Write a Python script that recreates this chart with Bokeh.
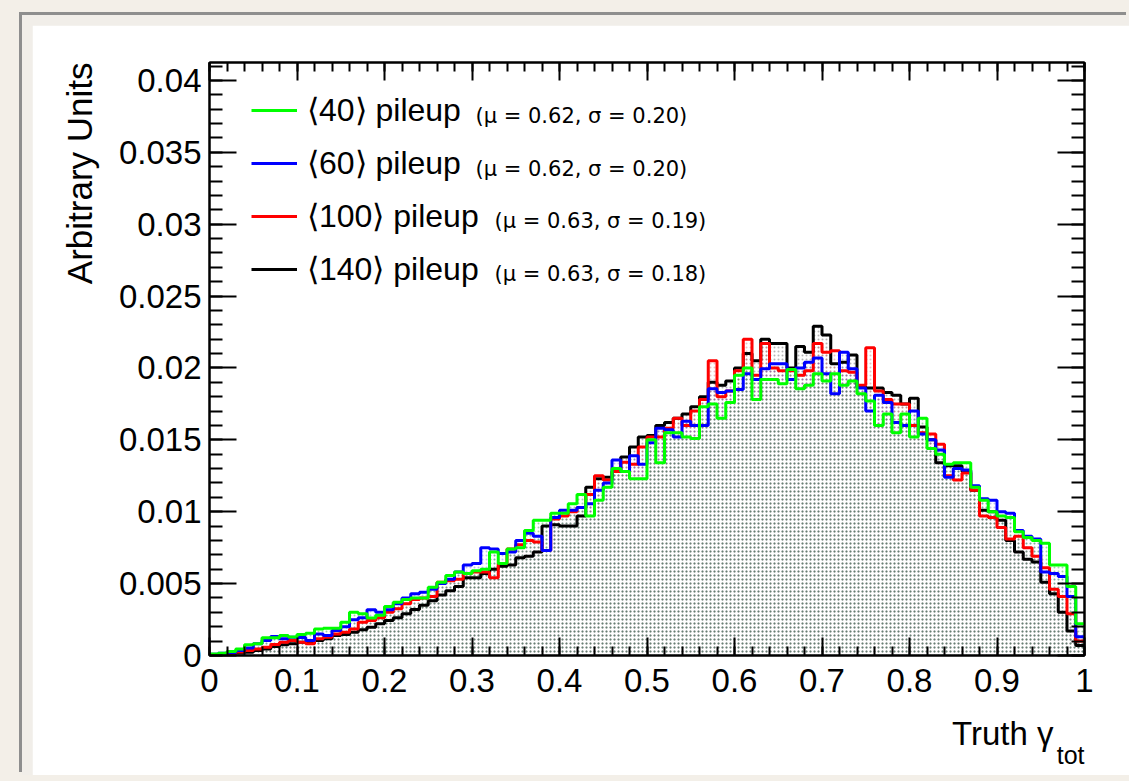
import numpy as np
from bokeh.plotting import figure
from bokeh.models import LinearAxis, FixedTicker, Label, Legend, LegendItem, Title
from bokeh.layouts import column
from bokeh.embed import file_html
from bokeh.resources import INLINE

# ---------------- data ----------------
x_min, x_max, n_bins = 0.0, 1.0, 100

pu40 = [0.0001, 0.00016, 0.00028, 0.00046, 0.00074, 0.00081, 0.00123, 0.00123, 0.00139, 0.00128,
        0.00146, 0.00155, 0.00185, 0.0019, 0.0019, 0.00232, 0.0030, 0.0029, 0.0026, 0.0028,
        0.0034, 0.0037, 0.0039, 0.0040, 0.0040, 0.00475, 0.0051, 0.00557, 0.0058, 0.0057,
        0.0059, 0.0060, 0.0072, 0.0064, 0.0074, 0.0075, 0.0087, 0.0094, 0.0094, 0.0099,
        0.0099, 0.01055, 0.0112, 0.0097, 0.0108, 0.0117, 0.0130, 0.0128, 0.0123, 0.0123,
        0.0150, 0.0134, 0.0155, 0.0155, 0.0152, 0.0151, 0.0173, 0.0175, 0.0165, 0.0176,
        0.0195, 0.0200, 0.0178, 0.0192, 0.0192, 0.0189, 0.0199, 0.01855, 0.0188, 0.0196,
        0.0191, 0.0196, 0.0188, 0.0191, 0.0182, 0.0177, 0.0160, 0.0168, 0.0155, 0.0168,
        0.0152, 0.0165, 0.0144, 0.0140, 0.0133, 0.0134, 0.0134, 0.0117, 0.0108, 0.0100,
        0.0097, 0.0096, 0.0086, 0.0082, 0.0080, 0.0078, 0.0063, 0.0063, 0.0048, 0.0022]

pu60 = [0.00008, 0.00015, 0.0002, 0.00035, 0.00053, 0.00081, 0.00104, 0.00132, 0.00116, 0.00127,
        0.00125, 0.00104, 0.0015, 0.00139, 0.00174, 0.0020, 0.00248, 0.00262, 0.00318, 0.0030,
        0.00318, 0.0036, 0.0040, 0.0043, 0.0044, 0.0046, 0.0050, 0.0053, 0.0058, 0.0063,
        0.0064, 0.0075, 0.0074, 0.0071, 0.0072, 0.0080, 0.0085, 0.0083, 0.0073, 0.0096,
        0.0101, 0.0101, 0.0103, 0.01055, 0.0115, 0.0120, 0.0136, 0.0128, 0.0139, 0.0133,
        0.0148, 0.0158, 0.0157, 0.0152, 0.0163, 0.0160, 0.0160, 0.01855, 0.0183, 0.0184,
        0.0185, 0.0196, 0.0192, 0.01995, 0.0203, 0.0203, 0.0192, 0.0200, 0.0204, 0.0207,
        0.0196, 0.0182, 0.0211, 0.01995, 0.0186, 0.0170, 0.0181, 0.0176, 0.0162, 0.0160,
        0.0170, 0.0154, 0.0150, 0.0143, 0.0124, 0.0130, 0.0129, 0.0118, 0.0109, 0.0108,
        0.0100, 0.0099, 0.0087, 0.0083, 0.0081, 0.0058, 0.0057, 0.0055, 0.0041, 0.0013]

pu100 = [0.00005, 0.0001, 0.00015, 0.00025, 0.00035, 0.00046, 0.00058, 0.00077, 0.00093, 0.00104,
         0.00093, 0.00081, 0.00116, 0.00127, 0.0015, 0.00162, 0.00185, 0.00232, 0.00243, 0.00262,
         0.0030, 0.00325, 0.0036, 0.0039, 0.0040, 0.0041, 0.0051, 0.0052, 0.0053, 0.0057,
         0.0058, 0.0058, 0.0054, 0.0064, 0.0074, 0.0077, 0.0080, 0.0079, 0.0073, 0.0095,
         0.0097, 0.0100, 0.0103, 0.0112, 0.0125, 0.0122, 0.0128, 0.01345, 0.0133, 0.0145,
         0.0152, 0.0152, 0.0158, 0.0165, 0.0160, 0.0170, 0.0178, 0.0205, 0.0180, 0.0184,
         0.0198, 0.0220, 0.0195, 0.0217, 0.0200, 0.0198, 0.0198, 0.0195, 0.0198, 0.0217,
         0.0211, 0.0212, 0.0198, 0.0197, 0.0188, 0.0214, 0.0184, 0.0178, 0.0175, 0.0175,
         0.0160, 0.0155, 0.0154, 0.0147, 0.0125, 0.0122, 0.0127, 0.0115, 0.0097, 0.0096,
         0.0089, 0.0081, 0.0083, 0.0075, 0.0069, 0.0061, 0.0046, 0.0041, 0.0029, 0.0010]

pu140 = [0.00005, 0.0001, 0.00012, 0.00018, 0.00023, 0.00035, 0.00046, 0.00063, 0.00074, 0.00081,
         0.00093, 0.00098, 0.00104, 0.00116, 0.00139, 0.00146, 0.00162, 0.00179, 0.00197, 0.0022,
         0.00243, 0.00262, 0.0029, 0.0032, 0.0035, 0.0038, 0.0042, 0.0045, 0.0048, 0.0054,
         0.0054, 0.0057, 0.0060, 0.0062, 0.0063, 0.0068, 0.0069, 0.0072, 0.0090, 0.0091,
         0.0090, 0.0090, 0.0097, 0.0117, 0.0123, 0.0124, 0.0128, 0.0138, 0.0145, 0.0152,
         0.0153, 0.0160, 0.0162, 0.0165, 0.0168, 0.0173, 0.0180, 0.0190, 0.0188, 0.0191,
         0.0200, 0.0210, 0.0205, 0.0220, 0.0217, 0.0217, 0.0200, 0.0215, 0.0211, 0.0229,
         0.0223, 0.0203, 0.0204, 0.0209, 0.0187, 0.0186, 0.0186, 0.0183, 0.0181, 0.0175,
         0.0179, 0.0159, 0.0150, 0.0134, 0.0132, 0.0132, 0.0128, 0.0115, 0.0101, 0.0100,
         0.0094, 0.0080, 0.0072, 0.0067, 0.0065, 0.0051, 0.0043, 0.0030, 0.0017, 0.0007]

series = [pu40, pu60, pu100, pu140]
legend_labels = ["\u27e840\u27e9 pileup", "\u27e860\u27e9 pileup",
                 "\u27e8100\u27e9 pileup", "\u27e8140\u27e9 pileup"]
legend_stats = ["(\u03bc = 0.62, \u03c3 = 0.20)", "(\u03bc = 0.62, \u03c3 = 0.20)",
                "(\u03bc = 0.63, \u03c3 = 0.19)", "(\u03bc = 0.63, \u03c3 = 0.18)"]
colors = ["#00ff00", "#0000ff", "#ff0000", "#000000"]
stipple_colors = ["#2f9a3c", "#3a3ac8", "#c83a3a", "#303030"]
stipple_alpha = [0.45, 0.33, 0.33, 0.36]

x_ticks = [0, 0.1, 0.2, 0.3, 0.4, 0.5, 0.6, 0.7, 0.8, 0.9, 1]
x_tick_labels = ["0", "0.1", "0.2", "0.3", "0.4", "0.5", "0.6", "0.7", "0.8", "0.9", "1"]
y_ticks = [0, 0.005, 0.01, 0.015, 0.02, 0.025, 0.03, 0.035, 0.04]
y_tick_labels = ["0", "0.005", "0.01", "0.015", "0.02", "0.025", "0.03", "0.035", "0.04"]
y_top = 0.04125
x_title = "Truth \u03b3"
x_title_sub = "tot"
y_title = "Arbitrary Units"

# ---------------- figure ----------------
FONT = "Liberation Sans"
p = figure(width=1097, height=750, x_range=(x_min, x_max), y_range=(0, y_top),
           output_backend="svg", toolbar_location=None,
           min_border_left=177, min_border_right=45, min_border_top=37, min_border_bottom=120)
p.margin = (10, 0, 0, 10)
p.background_fill_color = "white"
p.border_fill_color = "white"
p.xgrid.visible = False
p.ygrid.visible = False
p.outline_line_color = "black"
p.outline_line_width = 2

edges = np.linspace(x_min, x_max, n_bins + 1)
x_minor = list(np.round(np.arange(0, 1.0001, 0.02), 4))
y_minor = list(np.round(np.arange(0, y_top, 0.001), 5))

order = [3, 2, 1, 0]
for i in order:
    vals = np.array(series[i])
    p.quad(left=edges[:-1], right=edges[1:], bottom=0, top=vals,
           fill_alpha=0, line_color=None, hatch_pattern="dot",
           hatch_color=stipple_colors[i], hatch_scale=4, hatch_alpha=stipple_alpha[i])

line_r = {}
for i in order:
    vals = np.array(series[i])
    line_r[i] = p.step(x=edges, y=np.append(vals, vals[-1]), mode="after",
                       line_color=colors[i], line_width=3)

def style_axis(ax, tin, tmin):
    ax.axis_line_width = 2
    ax.axis_line_color = "black"
    ax.major_tick_in = tin
    ax.major_tick_out = 0
    ax.minor_tick_in = tmin
    ax.minor_tick_out = 0
    ax.major_tick_line_width = 2
    ax.minor_tick_line_width = 2
    ax.major_label_text_font = FONT
    ax.major_label_text_font_size = "33px"
    ax.major_label_text_color = "black"

p.xaxis.ticker = FixedTicker(ticks=x_ticks, minor_ticks=x_minor)
p.yaxis.ticker = FixedTicker(ticks=y_ticks, minor_ticks=y_minor)
style_axis(p.xaxis[0], 18, 9)
style_axis(p.yaxis[0], 27, 13)
p.xaxis.major_label_overrides = dict(zip(x_ticks, x_tick_labels))
p.yaxis.major_label_overrides = dict(zip(y_ticks, y_tick_labels))
p.xaxis.major_label_standoff = 13
p.yaxis.major_label_standoff = 8

ax_top = LinearAxis(ticker=FixedTicker(ticks=x_ticks, minor_ticks=x_minor))
style_axis(ax_top, 18, 9)
ax_top.major_label_text_font_size = "1px"
ax_top.major_label_text_color = None
ax_top.major_label_standoff = 0
p.add_layout(ax_top, "above")

ax_right = LinearAxis(ticker=FixedTicker(ticks=y_ticks, minor_ticks=y_minor))
style_axis(ax_right, 27, 13)
ax_right.major_label_text_font_size = "1px"
ax_right.major_label_text_color = None
ax_right.major_label_standoff = 0
p.add_layout(ax_right, "right")

# axis titles
p.add_layout(Title(text=y_title, align="right", text_font=FONT, text_font_size="35px",
                   text_font_style="normal", text_color="black", standoff=33), "left")
p.add_layout(Title(text=x_title, align="right", offset=31, text_font=FONT,
                   text_font_size="33px", text_font_style="normal", text_color="black",
                   standoff=36), "below")
p.add_layout(Title(text=x_title_sub, align="right", offset=0, vertical_align="top",
                   text_font=FONT, text_font_size="25px", text_font_style="normal",
                   text_color="black", standoff=-57), "below")

# legend
items = [LegendItem(label=legend_labels[i], renderers=[line_r[i]]) for i in range(4)]
legend = Legend(items=items, location=(42, 367), padding=0, margin=0,
                border_line_alpha=0, background_fill_alpha=0,
                glyph_width=46, glyph_height=36, label_height=36, spacing=15,
                label_standoff=10, label_text_font=FONT, label_text_font_size="32px",
                label_text_color="black")
p.add_layout(legend)

stat_x = [266, 266, 285, 285]
stat_y = [539.5, 487, 434.5, 382]
for i in range(4):
    p.add_layout(Label(x=stat_x[i], y=stat_y[i], x_units="screen", y_units="screen",
                       text=legend_stats[i], text_align="left", text_baseline="alphabetic",
                       text_font="DejaVu Sans", text_font_size="21px", text_color="black"))

inner = column(p, margin=(15, 0, 0, 22),
               styles={"background-color": "#f1eee9", "box-shadow": "-3px -3px 0 0 #8e8e8e"})
page = column(inner, width=1129, height=781, styles={"background-color": "#f3efe8"})

open("out.html", "w").write(file_html(page, INLINE))
